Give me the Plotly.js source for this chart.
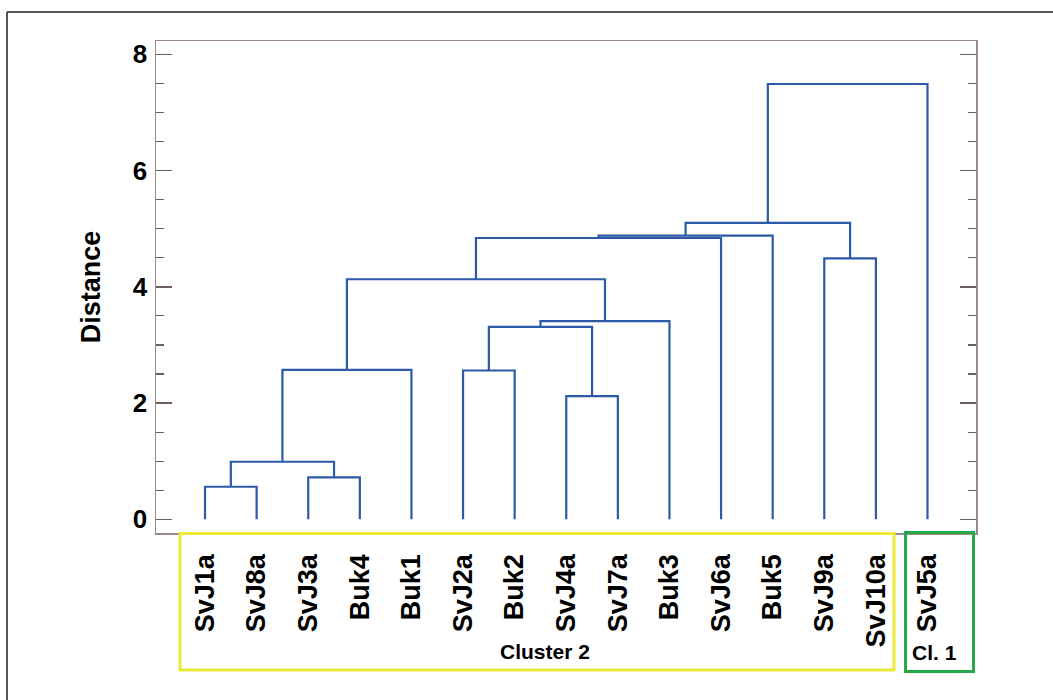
<!DOCTYPE html>
<html>
<head>
<meta charset="utf-8">
<script src="https://cdn.plot.ly/plotly-3.0.1.min.js"></script>
<style>
html,body{margin:0;padding:0;background:#fff;}
#chart{width:1053px;height:700px;}
</style>
</head>
<body>
<div id="chart"></div>
<script>
// Leaf labels in dendrogram order (x positions 0..14)
const leaves = ['SvJ1a','SvJ8a','SvJ3a','Buk4','Buk1','SvJ2a','Buk2','SvJ4a','SvJ7a','Buk3','SvJ6a','Buk5','SvJ9a','SvJ10a','SvJ5a'];
// Merge steps: node ids < 15 are leaves, id 15+k is the cluster made at step k
const mergeLeft  = [0, 2, 15, 17, 5, 7, 19, 21, 18, 23, 24, 12, 25, 27];
const mergeRight = [1, 3, 16,  4, 6, 8, 20,  9, 22, 10, 11, 13, 26, 14];
const mergeHeight = [0.56, 0.72, 0.99, 2.57, 2.56, 2.12, 3.31, 3.41, 4.13, 4.84, 4.88, 4.49, 5.10, 7.49];
const yTicks = [0, 2, 4, 6, 8];
const yTitle = 'Distance';
const groupLabels = ['Cluster 2', 'Cl. 1'];

// Build dendrogram link coordinates
const nodeX = leaves.map((_, i) => i);
const nodeH = leaves.map(() => 0);
const xs = [], ys = [];
for (let k = 0; k < mergeHeight.length; k++) {
  const a = mergeLeft[k], b = mergeRight[k], h = mergeHeight[k];
  xs.push(nodeX[a], nodeX[a], nodeX[b], nodeX[b], null);
  ys.push(nodeH[a], h, h, nodeH[b], null);
  nodeX.push((nodeX[a] + nodeX[b]) / 2);
  nodeH.push(h);
}

const FONT = 'Liberation Sans, Arial, Helvetica, sans-serif';
const axisColor = '#9a8888';
const tickColor = '#6e5f5f';

// plot area in px: left 156, right 976, top 41, bottom 533
const L = 156, R = 976, T = 41, B = 533;
const px = v => (v - L) / (R - L);
const py = v => (B - v) / (B - T);

const trace = {
  type: 'scatter', mode: 'lines',
  x: xs, y: ys,
  line: {color: '#2c5aa8', width: 2.2},
  hoverinfo: 'skip', showlegend: false,
  cliponaxis: false
};

const layout = {
  width: 1053, height: 700,
  margin: {l: L, r: 1053 - R, t: T, b: 700 - B},
  paper_bgcolor: '#ffffff', plot_bgcolor: '#ffffff',
  showlegend: false,
  xaxis: {
    range: [-0.95, 14.94],
    showgrid: false, zeroline: false,
    showline: true, mirror: true, linecolor: axisColor, linewidth: 1.5,
    ticks: '',
    tickmode: 'array',
    tickvals: leaves.map((_, i) => i),
    ticktext: leaves,
    tickangle: -90,
    ticklabelstandoff: 9,
    tickfont: {family: FONT, size: 27, weight: 'bold', color: '#000'},
    fixedrange: true
  },
  yaxis: {
    range: [-0.236, 8.23],
    showgrid: false, zeroline: false,
    showline: true, mirror: 'ticks', linecolor: axisColor, linewidth: 1.5,
    ticks: 'inside', ticklen: 16, tickwidth: 1.5, tickcolor: tickColor,
    tickmode: 'array', tickvals: yTicks, ticktext: yTicks.map(String),
    minor: {tick0: 0, dtick: 0.5, ticks: 'inside', ticklen: 8, tickwidth: 1.2, tickcolor: tickColor, showgrid: false},
    ticklabelstandoff: 2,
    tickfont: {family: FONT, size: 26, weight: 'bold', color: '#000'},
    title: {text: yTitle, standoff: 24, font: {family: FONT, size: 27, weight: 'bold', color: '#000'}},
    fixedrange: true
  },
  shapes: [
    // outer frame (left and top edges)
    {type: 'line', xref: 'paper', yref: 'paper', x0: px(7), x1: px(7), y0: py(12), y1: py(702), line: {color: '#222', width: 1.5}, layer: 'above'},
    {type: 'line', xref: 'paper', yref: 'paper', x0: px(7), x1: px(1055), y0: py(12), y1: py(12), line: {color: '#222', width: 1.5}, layer: 'above'},
    // cluster boxes
    {type: 'rect', xref: 'paper', yref: 'paper', x0: px(180), x1: px(894), y0: py(670), y1: py(533.5), line: {color: '#ebe93a', width: 3}, layer: 'above'},
    {type: 'rect', xref: 'paper', yref: 'paper', x0: px(905.5), x1: px(973.5), y0: py(671.5), y1: py(532.5), line: {color: '#23a84a', width: 3}, layer: 'above'}
  ],
  annotations: [
    {xref: 'paper', yref: 'paper', x: px(545), y: py(651), text: groupLabels[0], showarrow: false,
     xanchor: 'center', yanchor: 'middle', font: {family: FONT, size: 21, weight: 'bold', color: '#000'}},
    {xref: 'paper', yref: 'paper', x: px(934), y: py(652), text: groupLabels[1], showarrow: false,
     xanchor: 'center', yanchor: 'middle', font: {family: FONT, size: 21, weight: 'bold', color: '#000'}}
  ]
};

Plotly.newPlot('chart', [trace], layout, {staticPlot: true, displayModeBar: false});
</script>
</body>
</html>
